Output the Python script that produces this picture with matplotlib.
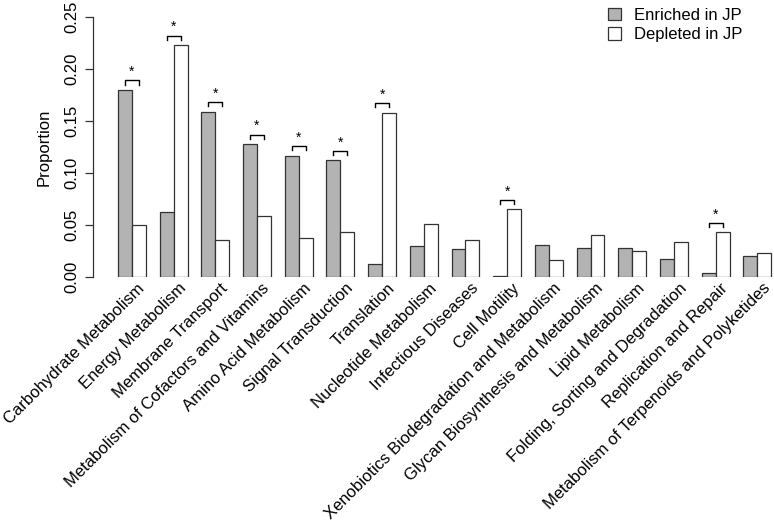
import matplotlib
matplotlib.use("Agg")
import matplotlib.pyplot as plt
from matplotlib.patches import Patch

plt.rcParams['font.family'] = ['Liberation Sans', 'DejaVu Sans']

categories = ["Carbohydrate Metabolism", "Energy Metabolism", "Membrane Transport",
              "Metabolism of Cofactors and Vitamins", "Amino Acid Metabolism",
              "Signal Transduction", "Translation", "Nucleotide Metabolism",
              "Infectious Diseases", "Cell Motility",
              "Xenobiotics Biodegradation and Metabolism",
              "Glycan Biosynthesis and Metabolism", "Lipid Metabolism",
              "Folding, Sorting and Degradation", "Replication and Repair",
              "Metabolism of Terpenoids and Polyketides"]
enriched = [0.180, 0.0625, 0.159, 0.128, 0.1167, 0.1122, 0.0122, 0.0298,
            0.0269, 0.001, 0.0304, 0.0276, 0.0276, 0.017, 0.0042, 0.0205]
depleted = [0.050, 0.223, 0.0355, 0.0587, 0.0372, 0.043, 0.158, 0.0513,
            0.0353, 0.065, 0.0163, 0.040, 0.0247, 0.0333, 0.043, 0.023]
significant = [True, True, True, True, True, True, True, False,
               False, True, False, False, False, False, True, False]
yticks = [0.00, 0.05, 0.10, 0.15, 0.20, 0.25]
legend_labels = ["Enriched in JP", "Depleted in JP"]

W, H = 774, 522
fig = plt.figure(figsize=(W / 100, H / 100), dpi=100)
ax = fig.add_axes([93 / W, 1 - 277 / H, 1 - 93 / W, (277 - 17) / H])

gray = "#b3b3b3"
edge = "#333333"
x_gray = [1.5 + 3 * i for i in range(len(categories))]
x_white = [2.5 + 3 * i for i in range(len(categories))]
ax.bar(x_gray, enriched, width=1.0, color=gray, edgecolor=edge, linewidth=0.9)
ax.bar(x_white, depleted, width=1.0, color="white", edgecolor=edge, linewidth=0.9)

for i, sig in enumerate(significant):
    if not sig:
        continue
    top = max(enriched[i], depleted[i])
    yb = top + 0.009
    x0, x1 = x_gray[i], x_white[i]
    ax.plot([x0, x0, x1, x1], [yb - 0.004, yb, yb, yb - 0.004], color="black",
            linewidth=1.0, clip_on=False)
    ax.text((x0 + x1) / 2, yb + 0.0015, "*", ha="center", va="bottom", fontsize=10,
            clip_on=False)

for i, cat in enumerate(categories):
    ax.text(2 + 3 * i + 0.35, -0.0035, cat, rotation=45, ha="right", va="top",
            rotation_mode="anchor", fontsize=12, clip_on=False)

ax.set_xlim(-0.8, 48.2)
ax.set_ylim(0, 0.25)
ax.set_yticks(yticks)
ax.set_yticklabels([f"{v:.2f}" for v in yticks], rotation=90, va="center", fontsize=12)
ax.tick_params(axis="y", length=6, width=0.9, pad=4, colors="#333333", labelcolor="black")
ax.set_xticks([])
for s in ["top", "right", "bottom"]:
    ax.spines[s].set_visible(False)
ax.spines["left"].set_bounds(0, 0.25)
ax.spines["left"].set_color("#333333")
ax.spines["left"].set_linewidth(0.9)
ax.set_ylabel("Proportion", fontsize=12, labelpad=9)

handles = [Patch(facecolor=gray, edgecolor=edge, linewidth=0.9),
           Patch(facecolor="white", edgecolor=edge, linewidth=0.9)]
fig.legend(handles, legend_labels, loc="upper left", bbox_to_anchor=(596 / W, 1 + 4 / H),
           frameon=False, fontsize=12, handlelength=0.8, handleheight=0.8,
           handletextpad=0.8, labelspacing=0.25, borderpad=0.2)

fig.savefig("out.png", dpi=100)
